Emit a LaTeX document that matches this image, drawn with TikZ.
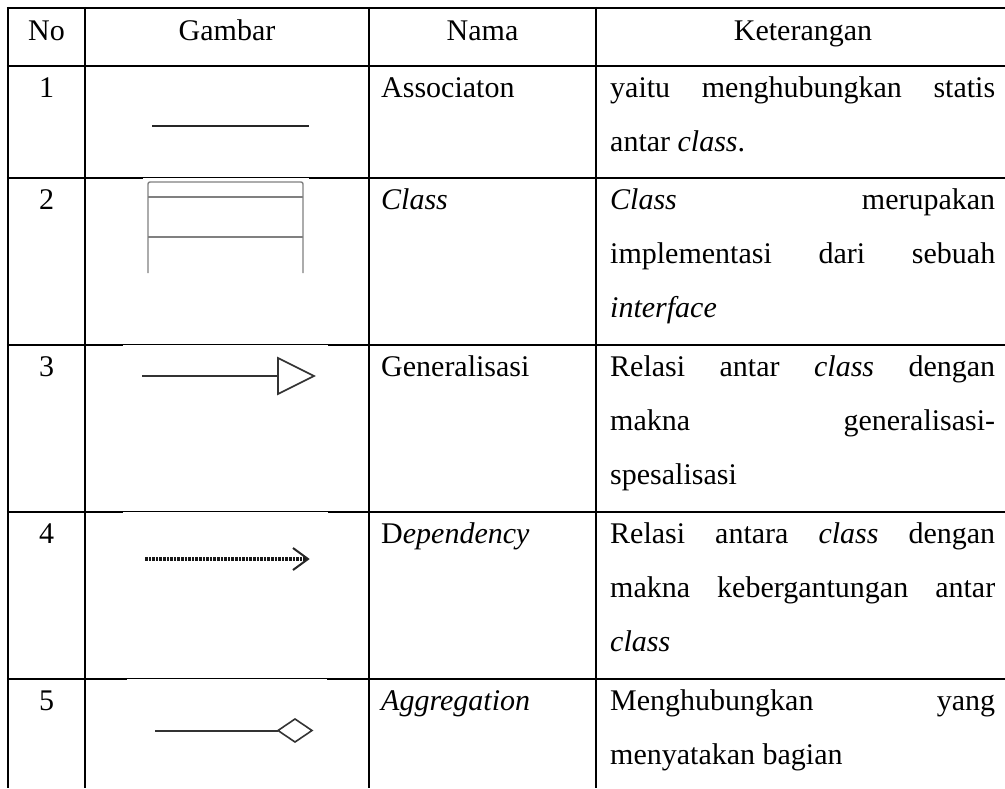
\documentclass[tikz,border=0pt]{standalone}
\usepackage{fontspec}
\setmainfont{Liberation Serif}
\begin{document}
\begin{tikzpicture}[x=1pt,y=-1pt,
  grid/.style={line width=2.2pt,black},
  patch/.style={fill=white,draw=none},
  txt/.style={inner sep=0pt,font=\fontsize{30}{54}\selectfont},
  ctr/.style={txt,anchor=base},
  lft/.style={txt,anchor=base west},
  sym/.style={line width=1.6pt,draw=black!80},
  clsbox/.style={line width=1.4pt,draw=black!50},
]
\useasboundingbox (0,0) rectangle (1005,788);
% grid
\foreach \y in {8,65.7,178,345,512,679} \draw[grid] (6.9,\y) -- (1005,\y);
\foreach \x in {8,85,369,596} \draw[grid] (\x,6.9) -- (\x,788);
% white image patches over row lines
\fill[patch] (143,178) rectangle (309,180.5);
\fill[patch] (123,345) rectangle (328,347.5);
\fill[patch] (123,512) rectangle (328,514.5);
\fill[patch] (127,679) rectangle (327,681.5);
% header
\node[ctr] (hNo) at (46.5,40) {No};
\node[ctr] (hGam) at (227,40) {Gambar};
\node[ctr] (hNam) at (482.5,40) {Nama};
\node[ctr] (hKet) at (803,40) {Keterangan};
% numbers
\node[ctr] (n1) at (46.5,97) {1};
\node[ctr] (n2) at (46.5,209) {2};
\node[ctr] (n3) at (46.5,376) {3};
\node[ctr] (n4) at (46.5,543) {4};
\node[ctr] (n5) at (46.5,710) {5};
% names
\node[lft] (m1) at (381,97) {Associaton};
\node[lft] (m2) at (381,209) {\textit{Class}};
\node[lft] (m3) at (381,376) {Generalisasi};
\node[lft] (m4) at (381,543) {D\textit{ependency}};
\node[lft] (m5) at (381,710) {\textit{Aggregation}};
% descriptions
\node[lft] (k1a) at (610,97) {\makebox[385pt][s]{yaitu menghubungkan statis}};
\node[lft] (k1b) at (610,151) {antar \textit{class}.};
\node[lft] (k2a) at (610,209) {\makebox[385pt][s]{\textit{Class} merupakan}};
\node[lft] (k2b) at (610,263) {\makebox[385pt][s]{implementasi dari sebuah}};
\node[lft] (k2c) at (610,317) {\textit{interface}};
\node[lft] (k3a) at (610,376) {\makebox[385pt][s]{Relasi antar \textit{class} dengan}};
\node[lft] (k3b) at (610,430) {\makebox[385pt][s]{makna generalisasi-}};
\node[lft] (k3c) at (610,484) {spesalisasi};
\node[lft] (k4a) at (610,543) {\makebox[385pt][s]{Relasi antara \textit{class} dengan}};
\node[lft] (k4b) at (610,597) {\makebox[385pt][s]{makna kebergantungan antar}};
\node[lft] (k4c) at (610,651) {\textit{class}};
\node[lft] (k5a) at (610,710) {\makebox[385pt][s]{Menghubungkan yang}};
\node[lft] (k5b) at (610,764) {menyatakan bagian};
% 1 association
\coordinate (a1) at (152,126);
\coordinate (a2) at (309,126);
\draw[line width=1.4pt,black!85] (a1) -- (a2);
% 2 class
\draw[clsbox,rounded corners=2pt] (148,273) -- (148,182) -- (303,182) -- (303,273);
\coordinate (c1l) at (148,197); \coordinate (c1r) at (303,197);
\coordinate (c2l) at (148,237); \coordinate (c2r) at (303,237);
\draw[clsbox] (c1l) -- (c1r);
\draw[clsbox] (c2l) -- (c2r);
% 3 generalisation
\coordinate (g1) at (142,376);
\coordinate (g2) at (278,376);
\draw[sym] (g1) -- (g2);
\draw[sym,line join=miter] (278,358) -- (314,376) -- (278,394) -- cycle;
% 4 dependency
\coordinate (d1) at (145,559);
\coordinate (d2) at (307,559);
\draw[line width=3.2pt,black!90,dash pattern=on 2.6pt off 1pt] (d1) -- (d2);
\draw[line width=2pt,black!85] (293,548) -- (308,559) -- (293,570);
% 5 aggregation
\coordinate (ag1) at (155,730.5);
\coordinate (ag2) at (278,730.5);
\draw[line width=2pt,black!80] (ag1) -- (ag2);
\draw[sym] (278,730.5) -- (295,719) -- (312,730.5) -- (295,742) -- cycle;
\end{tikzpicture}
\end{document}
